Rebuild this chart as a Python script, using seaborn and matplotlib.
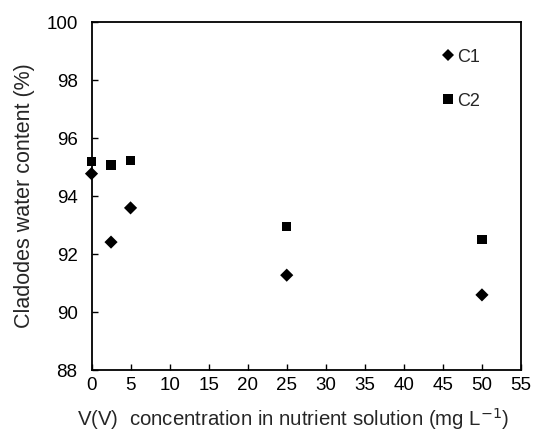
import matplotlib
matplotlib.use("Agg")
import matplotlib.pyplot as plt
import seaborn as sns
import pandas as pd

conc = [0, 2.5, 5, 25, 50]
c1 = [94.77, 92.41, 93.59, 91.27, 90.59]
c2 = [95.18, 95.07, 95.22, 92.94, 92.51]
series = ["C1", "C2"]
xticks = list(range(0, 56, 5))
yticks = list(range(88, 101, 2))

df = pd.DataFrame({
    "x": conc * 2,
    "y": c1 + c2,
    "series": [series[0]] * len(conc) + [series[1]] * len(conc),
})

sns.set_theme(style="ticks")
plt.rcParams['font.family'] = ['Liberation Sans', 'DejaVu Sans']

fig = plt.figure(figsize=(5.44, 4.36), dpi=100)
ax = fig.add_axes([91.5 / 544, 1 - 370 / 436, (521 - 91.5) / 544, (370 - 22) / 436])

sns.scatterplot(data=df, x="x", y="y", hue="series", style="series",
                palette={"C1": "black", "C2": "black"},
                markers={"C1": "D", "C2": "s"},
                s=45, linewidth=0, ax=ax, legend=True, clip_on=False, zorder=5)

colls = ax.collections
if len(colls) >= 2:
    colls[0].set_sizes([30])
    colls[1].set_sizes([80])

ax.set_xlim(0, 55)
ax.set_ylim(88, 100)
ax.set_xticks(xticks)
ax.set_yticks(yticks)
ax.tick_params(axis="both", direction="in", length=4, width=1, labelsize=13.5, colors="black")
ax.tick_params(axis="y", pad=10)
ax.tick_params(axis="x", pad=5)
for sp in ax.spines.values():
    sp.set_visible(True)
    sp.set_color("black")
    sp.set_linewidth(1.3)

ax.set_xlabel("V(V)  concentration in nutrient solution (mg L$^{-1}$)", fontsize=14.7)
ax.xaxis.set_label_coords(0.47, -0.105)
ax.set_ylabel("Cladodes water content (%)", fontsize=15.5, labelpad=8)

handles, labels = ax.get_legend_handles_labels()
for h in handles:
    try:
        h.set_markersize(6.5)
    except Exception:
        pass
ax.legend(handles, labels, frameon=False, loc="upper right",
          bbox_to_anchor=(0.942, 0.97), handletextpad=0.0, labelspacing=1.5,
          fontsize=13, handlelength=1.0, markerscale=1.0)

fig.savefig("out.png", dpi=100)
